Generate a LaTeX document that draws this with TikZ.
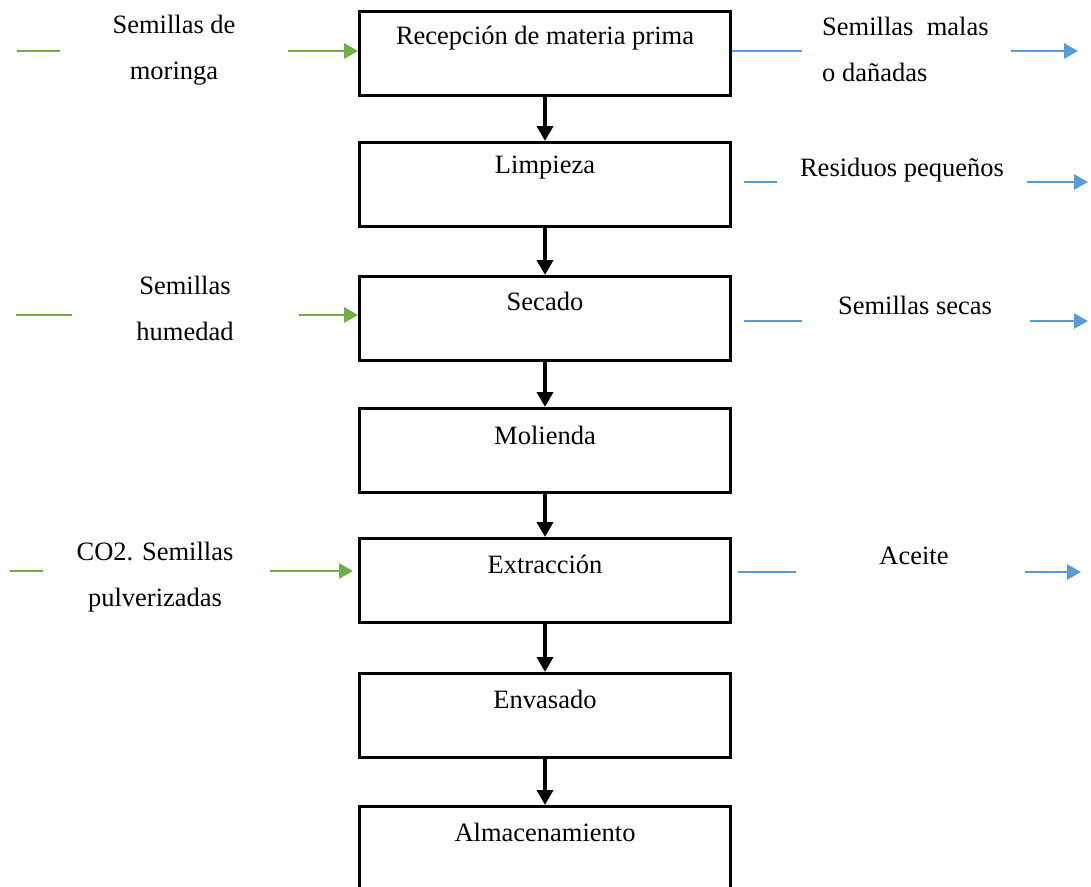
\documentclass[tikz,border=0pt]{standalone}
\usepackage{fontspec}
\setmainfont{Liberation Serif}
\usetikzlibrary{arrows.meta}
\definecolor{ogreen}{HTML}{70AD47}
\definecolor{oblue}{HTML}{5B9BD5}
\tikzset{
  procbox/.style={draw=black, line width=2.8pt, minimum width=371pt, minimum height=84pt, inner sep=0pt, anchor=north},
  lbl/.style={inner sep=0pt, align=center},
  flow/.style={line width=3.8pt, -{Triangle[length=15pt,width=16pt]}},
  gline/.style={draw=ogreen, line width=2.7pt},
  garrow/.style={draw=ogreen, line width=2.7pt, -{Triangle[length=14pt,width=15pt]}, color=ogreen},
  bline/.style={draw=oblue, line width=2.7pt},
  barrow/.style={draw=oblue, line width=2.7pt, -{Triangle[length=14pt,width=15pt]}, color=oblue},
}
\begin{document}
\begin{tikzpicture}[x=1pt,y=-1pt,font=\fontsize{26.5}{46}\selectfont]
\useasboundingbox (0,0) rectangle (1091,886);
\clip (0,0) rectangle (1091,886);
% process boxes
\node[procbox] (b1) at (545,10) {};
\node[procbox] (b2) at (545,141) {};
\node[procbox] (b3) at (545,275) {};
\node[procbox] (b4) at (545,407) {};
\node[procbox] (b5) at (545,537) {};
\node[procbox] (b6) at (545,672) {};
\node[procbox, minimum height=100pt] (b7) at (545,805) {};
% box texts
\node[lbl] (t1) at (545,38) {Recepción de materia prima};
\node[lbl] (t2) at (545,168) {Limpieza};
\node[lbl] (t3) at (545,301) {Secado};
\node[lbl] (t4) at (545,435) {Molienda};
\node[lbl] (t5) at (545,564) {Extracción};
\node[lbl] (t6) at (545,699) {Envasado};
\node[lbl] (t7) at (545,832) {Almacenamiento};
% main flow
\draw[flow] (b1) -- (b2);
\draw[flow] (b2) -- (b3);
\draw[flow] (b3) -- (b4);
\draw[flow] (b4) -- (b5);
\draw[flow] (b5) -- (b6);
\draw[flow] (b6) -- (b7);
% left inputs
\node[lbl] (in1) at (174,50) {Semillas de\\moringa};
\coordinate (g1a) at (17,51); \coordinate (g1b) at (60,51); \coordinate (g1c) at (288,51);
\draw[gline] (g1a) -- (g1b);
\draw[garrow] (g1c) -- (b1.west |- g1c);
\node[lbl] (in3) at (185,308) {Semillas\\humedad};
\coordinate (g3a) at (16,315); \coordinate (g3b) at (72,315); \coordinate (g3c) at (299,315);
\draw[gline] (g3a) -- (g3b);
\draw[garrow] (g3c) -- (b3.west |- g3c);
\node[lbl] (in5) at (155,577) {CO2. Semillas\\pulverizadas};
\coordinate (g5a) at (10,571); \coordinate (g5b) at (43,571); \coordinate (g5c) at (270,571); \coordinate (g5d) at (353,571);
\draw[gline] (g5a) -- (g5b);
\draw[garrow] (g5c) -- (g5d);
% right outputs
\node[lbl, align=left, anchor=west] (out1) at (822,49) {Semillas~ malas\\o dañadas};
\coordinate (r1b) at (802,51); \coordinate (r1c) at (1011,51); \coordinate (r1d) at (1078,51);
\draw[bline] (b1.east |- r1b) -- (r1b);
\draw[barrow] (r1c) -- (r1d);
\node[lbl] (out2) at (902,170) {Residuos pequeños};
\coordinate (r2a) at (744,182); \coordinate (r2b) at (777,182); \coordinate (r2c) at (1027,182); \coordinate (r2d) at (1088,182);
\draw[bline] (r2a) -- (r2b);
\draw[barrow] (r2c) -- (r2d);
\node[lbl] (out3) at (915,305) {Semillas secas};
\coordinate (r3a) at (744,321); \coordinate (r3b) at (802,321); \coordinate (r3c) at (1030,321); \coordinate (r3d) at (1088,321);
\draw[bline] (r3a) -- (r3b);
\draw[barrow] (r3c) -- (r3d);
\node[lbl] (out5) at (914,556) {Aceite};
\coordinate (r5a) at (738,572); \coordinate (r5b) at (796,572); \coordinate (r5c) at (1025,572); \coordinate (r5d) at (1081,572);
\draw[bline] (r5a) -- (r5b);
\draw[barrow] (r5c) -- (r5d);
\end{tikzpicture}
\end{document}
